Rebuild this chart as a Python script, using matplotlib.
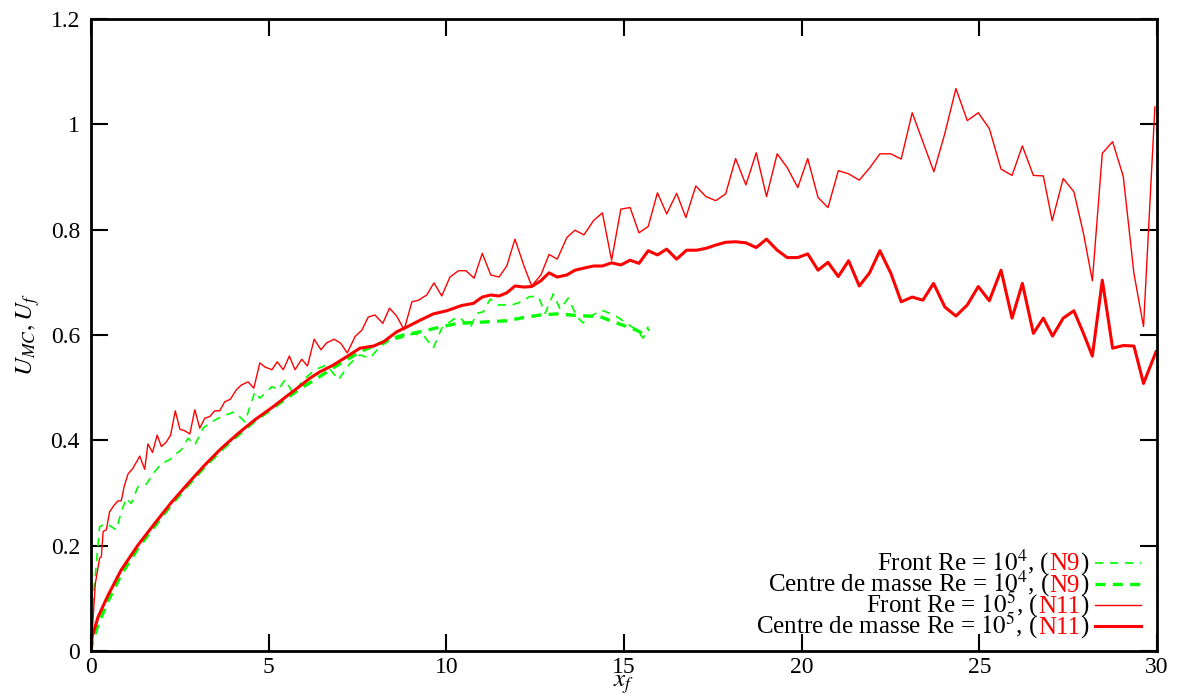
# front and centre-of-mass velocity vs front position, Re = 1e4 and 1e5
import matplotlib
matplotlib.use("Agg")
import matplotlib.pyplot as plt
from matplotlib.lines import Line2D
from matplotlib.offsetbox import TextArea, DrawingArea, HPacker, VPacker, AnchoredOffsetbox

plt.rcParams["font.family"] = ["Liberation Serif", "DejaVu Serif"]
plt.rcParams["mathtext.fontset"] = "stix"

# Re = 1e4 (N9), front
xFront4 = [0, 0.06, 0.15, 0.24, 0.43, 0.71, 0.85, 0.99, 1.13, 1.32, 1.56, 1.75, 1.98, 2.21,
           2.40, 2.54, 2.73, 2.92, 3.15, 3.39, 3.67, 4.04, 4.33, 4.61, 4.75, 5.09, 5.27, 5.46,
           5.69, 5.98, 6.30, 6.63, 6.96, 7.29, 7.57, 7.85, 8.13, 8.41, 8.70, 9.03, 9.35, 9.63,
           9.87, 10.20, 10.37, 10.67, 10.85, 11.04, 11.23, 11.46, 11.84, 12.03, 12.35, 12.59,
           12.78, 13.01, 13.20, 13.43, 13.67, 13.85, 14.04, 14.37, 14.61, 14.79, 15.08, 15.36,
           15.54, 15.68]
uFront4 = [0, 0.103, 0.166, 0.236, 0.242, 0.230, 0.264, 0.290, 0.280, 0.312, 0.317, 0.337,
           0.356, 0.363, 0.375, 0.382, 0.404, 0.391, 0.423, 0.435, 0.445, 0.454, 0.435, 0.492,
           0.480, 0.502, 0.496, 0.515, 0.489, 0.515, 0.534, 0.543, 0.515, 0.546, 0.562, 0.556,
           0.578, 0.590, 0.594, 0.602, 0.600, 0.575, 0.613, 0.630, 0.634, 0.613, 0.641, 0.644,
           0.668, 0.657, 0.657, 0.661, 0.673, 0.673, 0.641, 0.678, 0.649, 0.670, 0.635, 0.623,
           0.635, 0.647, 0.641, 0.635, 0.622, 0.609, 0.594, 0.616]

# Re = 1e4 (N9), centre of mass
xCm4 = [0, 0.03, 0.20, 0.48, 0.85, 1.32, 1.79, 2.26, 2.73, 3.20, 3.67, 4.14, 4.61, 5.13, 5.51,
        5.88, 6.30, 6.82, 7.20, 7.57, 7.95, 8.40, 8.79, 9.26, 9.82, 10.38, 10.57, 11.14, 11.70,
        12.17, 12.64, 13.11, 13.48, 13.95, 14.32, 14.70, 15.08, 15.36, 15.54, 15.70]
uCm4 = [0, 0.015, 0.050, 0.095, 0.145, 0.195, 0.237, 0.278, 0.315, 0.350, 0.382, 0.410, 0.437,
        0.462, 0.480, 0.498, 0.515, 0.538, 0.553, 0.568, 0.579, 0.592, 0.600, 0.606, 0.615,
        0.623, 0.623, 0.625, 0.627, 0.633, 0.638, 0.640, 0.638, 0.636, 0.635, 0.625, 0.616,
        0.609, 0.602, 0.612]

# Re = 1e5 (N11), front
xFront5 = [0, 0.06, 0.12, 0.24, 0.29, 0.34, 0.43, 0.52, 0.65, 0.76, 0.85, 0.93, 1.04, 1.18,
           1.37, 1.51, 1.60, 1.73, 1.86, 1.98, 2.12, 2.24, 2.37, 2.50, 2.64, 2.78, 2.92, 3.06,
           3.20, 3.34, 3.48, 3.62, 3.76, 3.92, 4.09, 4.23, 4.42, 4.58, 4.75, 4.90, 5.09, 5.24,
           5.41, 5.58, 5.74, 5.93, 6.09, 6.28, 6.47, 6.63, 6.84, 7.03, 7.21, 7.43, 7.62, 7.80,
           7.99, 8.21, 8.40, 8.60, 8.81, 9.03, 9.21, 9.45, 9.65, 9.87, 10.10, 10.34, 10.55,
           10.78, 11.01, 11.25, 11.48, 11.70, 11.93, 12.19, 12.40, 12.66, 12.89, 13.12, 13.39,
           13.62, 13.87, 14.14, 14.39, 14.65, 14.91, 15.17, 15.42, 15.68, 15.94, 16.20, 16.48,
           16.74, 17.02, 17.30, 17.58, 17.86, 18.14, 18.43, 18.72, 19.01, 19.31, 19.59, 19.89,
           20.17, 20.46, 20.74, 21.03, 21.32, 21.62, 21.91, 22.20, 22.51, 22.80, 23.11, 23.72,
           24.03, 24.34, 24.66, 24.97, 25.28, 25.61, 25.92, 26.21, 26.52, 26.80, 27.05, 27.36,
           27.66, 27.93, 28.18, 28.46, 28.75, 29.05, 29.35, 29.62, 29.94]
uFront5 = [0, 0.065, 0.128, 0.176, 0.179, 0.227, 0.230, 0.264, 0.277, 0.285, 0.285, 0.312,
           0.336, 0.347, 0.370, 0.345, 0.393, 0.377, 0.410, 0.388, 0.397, 0.410, 0.456, 0.421,
           0.418, 0.412, 0.458, 0.423, 0.442, 0.445, 0.456, 0.456, 0.473, 0.478, 0.496, 0.505,
           0.511, 0.499, 0.547, 0.539, 0.534, 0.549, 0.534, 0.560, 0.534, 0.554, 0.541, 0.592,
           0.572, 0.585, 0.592, 0.584, 0.566, 0.597, 0.609, 0.634, 0.638, 0.622, 0.651, 0.636,
           0.610, 0.663, 0.666, 0.676, 0.699, 0.674, 0.710, 0.722, 0.722, 0.708, 0.755, 0.714,
           0.710, 0.731, 0.782, 0.730, 0.693, 0.714, 0.753, 0.744, 0.785, 0.799, 0.790, 0.817,
           0.832, 0.742, 0.839, 0.842, 0.794, 0.806, 0.870, 0.830, 0.869, 0.823, 0.883, 0.863,
           0.855, 0.868, 0.935, 0.885, 0.946, 0.863, 0.944, 0.918, 0.880, 0.935, 0.861, 0.842,
           0.912, 0.906, 0.894, 0.917, 0.944, 0.944, 0.934, 1.022, 0.910, 0.983, 1.068, 1.007,
           1.022, 0.992, 0.915, 0.903, 0.959, 0.903, 0.902, 0.817, 0.897, 0.872, 0.793, 0.703,
           0.945, 0.967, 0.901, 0.717, 0.616, 1.033]

# Re = 1e5 (N11), centre of mass
xCm5 = [0, 0.03, 0.20, 0.48, 0.85, 1.32, 1.79, 2.26, 2.73, 3.20, 3.67, 4.14, 4.61, 5.13, 5.51,
        5.88, 6.16, 6.44, 6.82, 7.20, 7.57, 7.95, 8.23, 8.60, 8.88, 9.26, 9.63, 10.01, 10.43,
        10.76, 11.01, 11.25, 11.48, 11.70, 11.93, 12.19, 12.40, 12.66, 12.89, 13.12, 13.39,
        13.62, 13.87, 14.14, 14.39, 14.65, 14.91, 15.17, 15.42, 15.68, 15.94, 16.20, 16.48,
        16.76, 17.05, 17.33, 17.59, 17.86, 18.14, 18.43, 18.72, 19.01, 19.31, 19.59, 19.89,
        20.17, 20.46, 20.74, 21.03, 21.32, 21.62, 21.91, 22.20, 22.51, 22.80, 23.11, 23.41,
        23.71, 24.03, 24.34, 24.66, 24.97, 25.28, 25.61, 25.92, 26.21, 26.52, 26.80, 27.06,
        27.36, 27.66, 27.93, 28.18, 28.46, 28.75, 29.05, 29.35, 29.62, 29.97]
uCm5 = [0, 0.027, 0.065, 0.106, 0.154, 0.201, 0.242, 0.282, 0.318, 0.353, 0.385, 0.413, 0.439,
        0.464, 0.484, 0.503, 0.518, 0.530, 0.543, 0.559, 0.575, 0.579, 0.587, 0.606, 0.615,
        0.628, 0.640, 0.646, 0.656, 0.660, 0.672, 0.676, 0.674, 0.680, 0.693, 0.691, 0.692,
        0.703, 0.718, 0.710, 0.714, 0.723, 0.727, 0.731, 0.731, 0.737, 0.733, 0.742, 0.736,
        0.760, 0.752, 0.763, 0.744, 0.761, 0.761, 0.765, 0.771, 0.776, 0.777, 0.775, 0.766,
        0.782, 0.761, 0.747, 0.747, 0.754, 0.723, 0.738, 0.711, 0.741, 0.693, 0.718, 0.760,
        0.717, 0.663, 0.672, 0.666, 0.698, 0.653, 0.636, 0.657, 0.692, 0.665, 0.723, 0.632,
        0.698, 0.603, 0.632, 0.598, 0.632, 0.646, 0.603, 0.560, 0.704, 0.575, 0.580, 0.579,
        0.508, 0.568]

labels = ["Front Re = $10^4$, (", "Centre de masse Re = $10^4$, (",
          "Front Re = $10^5$, (", "Centre de masse Re = $10^5$, ("]
tags = ["N9", "N9", "N11", "N11"]
styles = [dict(color="#00ff00", lw=1.2, ls=(0, (5, 4))),
          dict(color="#00ff00", lw=2.4, ls=(0, (3, 2.2))),
          dict(color="#ff0000", lw=1.0, ls="-"),
          dict(color="#ff0000", lw=2.2, ls="-")]

fig = plt.figure(figsize=(11.81, 6.96), dpi=100)
ax = fig.add_axes([0.0771, 0.0647, 0.9026, 0.908])

for xs, ys, st in zip([xFront4, xCm4, xFront5, xCm5], [uFront4, uCm4, uFront5, uCm5], styles):
    ax.plot(xs, ys, **st)

ax.set_xlim(0, 30)
ax.set_ylim(0, 1.2)
ax.set_xticks([0, 5, 10, 15, 20, 25, 30])
ax.set_yticks([0, 0.2, 0.4, 0.6, 0.8, 1.0, 1.2])
ax.set_yticklabels(["0", "0.2", "0.4", "0.6", "0.8", "1", "1.2"])
ax.tick_params(direction="in", length=12, width=1.5, top=True, right=True, labelsize=17)
ax.tick_params(axis="x", pad=4)
ax.tick_params(axis="y", pad=8)
for sp in ax.spines.values():
    sp.set_linewidth(2)

ax.set_xlabel("$x_f$", fontsize=18, labelpad=-3)
ax.set_ylabel("$U_{MC}, U_f$", fontsize=18, labelpad=6)

# legend with the run name in red
fp = dict(fontsize=18)
rows = []
for lab, tag, st in zip(labels, tags, styles):
    txt = HPacker(children=[TextArea(lab, textprops=dict(color="black", **fp)),
                            TextArea(tag, textprops=dict(color="red", **fp)),
                            TextArea(")", textprops=dict(color="black", **fp))],
                  align="baseline", pad=0, sep=0)
    da = DrawingArea(33, 8, 0, 0)
    da.add_artist(Line2D([0, 33], [4, 4], **st))
    rows.append(HPacker(children=[txt, da], align="center", pad=0, sep=5))
box = VPacker(children=rows, align="right", pad=0, sep=-6.5)
anchored = AnchoredOffsetbox(loc="lower right", child=box, pad=0, borderpad=0, frameon=False,
                             bbox_to_anchor=(0.985, 0.015), bbox_transform=ax.transAxes)
ax.add_artist(anchored)

fig.savefig("out.png", dpi=100)
